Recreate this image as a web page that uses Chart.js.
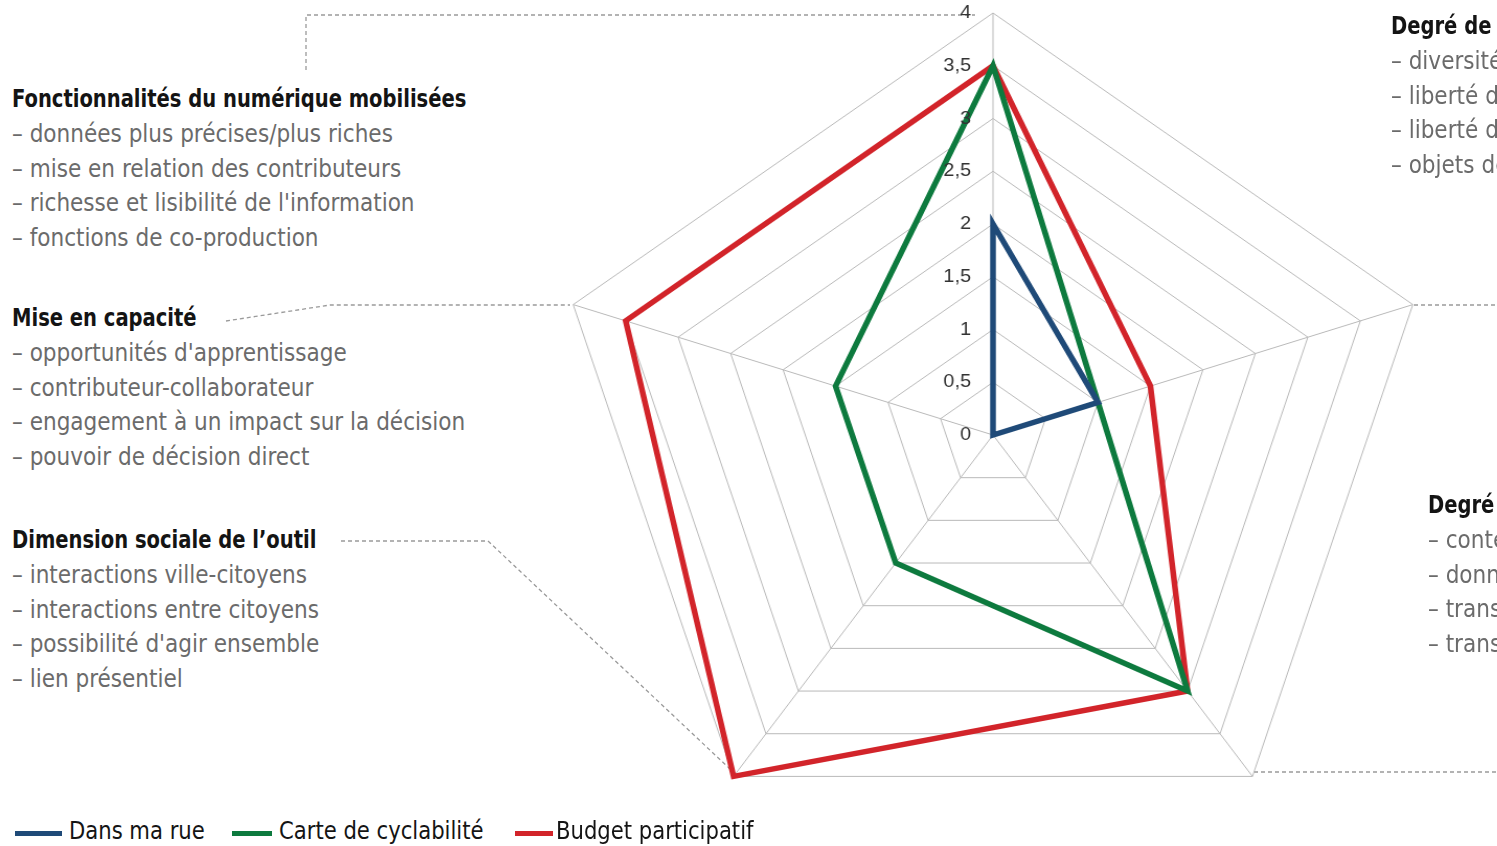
<!DOCTYPE html>
<html lang="fr">
<head>
<meta charset="utf-8">
<script src="https://cdn.jsdelivr.net/npm/chart.js@4.4.0/dist/chart.umd.min.js"></script>
<style>
  html, body { margin: 0; padding: 0; background: #fff; }
  body { width: 1497px; height: 846px; overflow: hidden; position: relative;
         font-family: "DejaVu Sans Condensed", "DejaVu Sans", sans-serif; font-stretch: condensed; }
  #wrap { position: absolute; left: 541px; top: -17px; width: 904px; height: 904px;
          transform: scaleX(1.046); transform-origin: 452px 452px; }
  .block { position: absolute; font-size: 25px; line-height: 34.8px; color: #6b6b6b; white-space: nowrap;
           transform: scaleX(0.96); transform-origin: 0 0; }
  .block b { color: #141414; display: block; transform: scaleX(0.905); transform-origin: 0 0; }
  #links { position: absolute; left: 0; top: 0; }
  .leg { position: absolute; top: 816px; font-size: 25px; line-height: 30px; color: #141414; white-space: nowrap; }
  .leg span { display: inline-block; transform: scaleX(0.94); transform-origin: 0 0; }
  .leg i { position: absolute; top: 15px; height: 5px; }
</style>
</head>
<body>
<svg id="links" width="1497" height="846">
  <g fill="none" stroke="#9a9a9a" stroke-width="1.3" stroke-dasharray="4 3">
    <polyline points="306,70 306,15 975,15"/>
    <polyline points="226,321 330,305 570,305"/>
    <polyline points="341,541 488,541 730,769"/>
    <polyline points="1414,305 1497,305"/>
    <polyline points="1254,772 1497,772"/>
  </g>
</svg>
<div id="wrap"><canvas id="radar" width="904" height="904"></canvas></div>

<div class="block" style="left:12px;top:82px">
  <b>Fonctionnalités du numérique mobilisées</b>
  – données plus précises/plus riches<br>
  – mise en relation des contributeurs<br>
  – richesse et lisibilité de l'information<br>
  – fonctions de co-production
</div>
<div class="block" style="left:12px;top:301px">
  <b>Mise en capacité</b>
  – opportunités d'apprentissage<br>
  – contributeur-collaborateur<br>
  – engagement à un impact sur la décision<br>
  – pouvoir de décision direct
</div>
<div class="block" style="left:12px;top:523px">
  <b>Dimension sociale de l’outil</b>
  – interactions ville-citoyens<br>
  – interactions entre citoyens<br>
  – possibilité d'agir ensemble<br>
  – lien présentiel
</div>
<div class="block" style="left:1391px;top:9px">
  <b>Degré de liberté</b>
  – diversité des<br>
  – liberté de<br>
  – liberté de<br>
  – objets de
</div>
<div class="block" style="left:1428px;top:488px">
  <b>Degré de transparence</b>
  – contenus<br>
  – données<br>
  – transparence<br>
  – transmission
</div>
<div id="legend"></div>

<script>
// axes of the radar (top, then clockwise)
const axes = [
  "Fonctionnalités du numérique mobilisées",
  "Degré de liberté",
  "Degré de transparence",
  "Dimension sociale de l’outil",
  "Mise en capacité"
];
const seriesNames = ["Dans ma rue", "Carte de cyclabilité", "Budget participatif"];
const dansMaRue = [2, 1, 0, 0, 0];
const carteCyclabilite = [3.5, 1, 3, 1.5, 1.5];
const budgetParticipatif = [3.5, 1.5, 3, 4, 3.5];
const tickValues = [0, 0.5, 1, 1.5, 2, 2.5, 3, 3.5, 4];
const tickLabels = ["0", "0,5", "1", "1,5", "2", "2,5", "3", "3,5", "4"];

const colors = ["#1f4a78", "#0d7a3e", "#d2242a"];
const legendX = [[15, 69], [232, 279], [515, 556]];

// tick labels sit left of the vertical axis, right aligned
const tickLabelPlugin = {
  id: 'tickLabels',
  afterDatasetsDraw(chart) {
    const scale = chart.scales.r;
    const ctx = chart.ctx;
    ctx.save();
    ctx.font = '19px "Liberation Sans", sans-serif';
    ctx.fillStyle = '#333';
    ctx.textAlign = 'right';
    ctx.textBaseline = 'middle';
    tickValues.forEach(function (v, i) {
      const p = scale.getPointPositionForValue(0, v);
      ctx.fillText(tickLabels[i], p.x - 21, p.y);
    });
    ctx.restore();
  }
};

const sets = [dansMaRue, carteCyclabilite, budgetParticipatif];
const chart = new Chart(document.getElementById('radar'), {
  type: 'radar',
  data: {
    labels: axes,
    datasets: sets.map(function (d, i) {
      return {
        label: seriesNames[i],
        data: d,
        borderColor: colors[i],
        backgroundColor: 'transparent',
        borderWidth: 5.5,
        borderJoinStyle: 'miter',
        pointRadius: 0,
        fill: false,
        tension: 0
      };
    })
  },
  options: {
    responsive: false,
    animation: false,
    layout: { padding: 30 },
    plugins: { legend: { display: false }, tooltip: { enabled: false } },
    scales: {
      r: {
        min: 0,
        max: 4,
        ticks: { stepSize: 0.5, display: false },
        grid: { color: '#b9b9b9', lineWidth: 1 },
        angleLines: { color: '#b9b9b9', lineWidth: 1 },
        pointLabels: { display: false }
      }
    }
  },
  plugins: [tickLabelPlugin]
});

// html legend from the series
const leg = document.getElementById('legend');
seriesNames.forEach(function (name, i) {
  const el = document.createElement('div');
  el.className = 'leg';
  el.style.left = legendX[i][1] + 'px';
  const txt = document.createElement('span');
  txt.textContent = name;
  el.appendChild(txt);
  const mark = document.createElement('i');
  mark.style.left = (legendX[i][0] - legendX[i][1]) + 'px';
  mark.style.width = (legendX[i][1] - legendX[i][0] - (i == 2 ? 3 : 7)) + 'px';
  mark.style.background = colors[i];
  el.appendChild(mark);
  leg.appendChild(el);
});
</script>
</body>
</html>
